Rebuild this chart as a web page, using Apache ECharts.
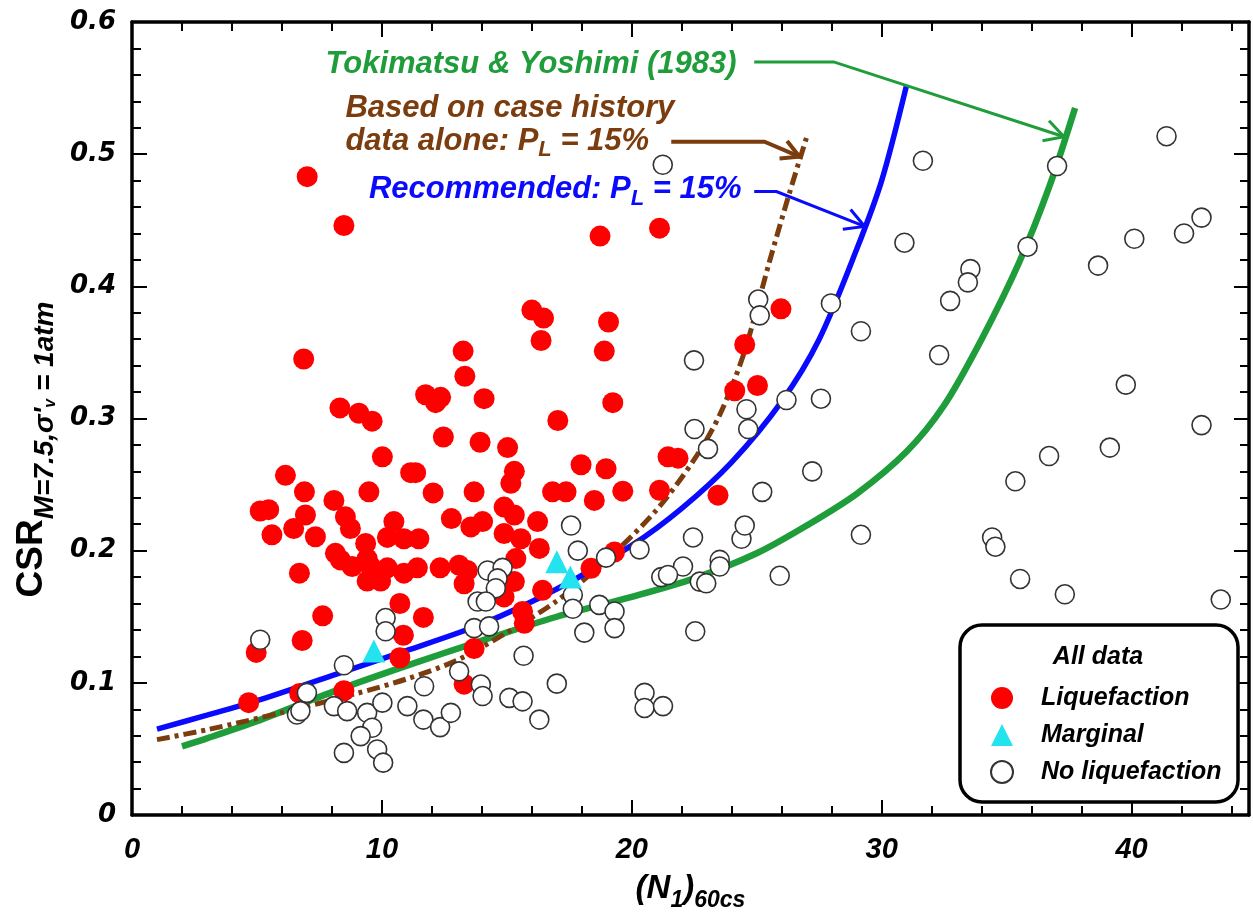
<!DOCTYPE html>
<html><head><meta charset="utf-8">
<script src="https://cdn.jsdelivr.net/npm/echarts@6/dist/echarts.min.js"></script>
<style>html,body{margin:0;padding:0;background:#fff}#c{width:1253px;height:917px}</style>
</head><body><div id="c"></div>
<script>
// ---------- data (N1,60cs , CSR) ----------
const liquefaction = [
 [7.01,0.483],[8.48,0.446],[6.87,0.345],[13.25,0.351],[13.32,0.332],[11.75,0.318],[12.35,0.316],[12.15,0.312],
 [8.32,0.308],[9.08,0.304],[9.61,0.298],[12.46,0.286],[10.02,0.271],[14.09,0.315],[6.14,0.257],[11.15,0.259],
 [11.35,0.259],[6.9,0.2445],[9.48,0.2445],[12.05,0.2437],[13.69,0.2445],[8.08,0.238],[5.13,0.230],[5.47,0.231],
 [6.94,0.227],[8.54,0.2256],[10.48,0.222],[12.78,0.2243],[13.56,0.218],[6.47,0.2168],[5.6,0.212],[7.34,0.2105],
 [8.74,0.2168],[10.22,0.210],[10.88,0.209],[11.48,0.209],[9.35,0.2055],[8.14,0.198],[8.34,0.193],[8.81,0.188],
 [9.41,0.194],[9.55,0.188],[9.41,0.177],[9.95,0.177],[10.22,0.187],[10.88,0.183],[11.42,0.187],[12.33,0.187],
 [13.09,0.189],[13.42,0.185],[13.29,0.175],[6.7,0.183],[10.72,0.160],[11.66,0.1495],[7.63,0.1507],[10.86,0.136],
 [6.81,0.132],[4.97,0.123],[10.72,0.119],[4.67,0.085],[6.71,0.092],[8.48,0.094],[13.69,0.126],[13.29,0.099],
 [21.11,0.444],[18.73,0.438],[16.0,0.382],[16.47,0.376],[16.37,0.359],[19.07,0.373],[18.9,0.351],[19.24,0.312],
 [17.04,0.2985],[13.93,0.282],[15.03,0.278],[24.52,0.356],[24.12,0.321],[21.45,0.271],[21.85,0.270],[17.97,0.265],
 [18.97,0.262],[15.3,0.260],[15.16,0.251],[16.83,0.2445],[17.37,0.2445],[18.5,0.238],[19.64,0.245],[21.11,0.2457],
 [23.45,0.242],[14.89,0.233],[15.3,0.227],[14.03,0.222],[16.23,0.222],[14.89,0.213],[15.56,0.209],[16.3,0.2017],
 [15.36,0.194],[15.3,0.1766],[14.89,0.165],[16.43,0.170],[18.37,0.1867],[19.31,0.199],[15.63,0.154],[15.7,0.145],
 [25.97,0.383],[25.03,0.325]
];
const marginal = [[9.68,0.124],[17.0,0.1917],[17.54,0.180]];
const noLiquefaction = [
 [5.13,0.1326],[10.15,0.149],[10.15,0.139],[8.48,0.1133],[7.0,0.0924],[6.6,0.076],[6.74,0.0786],[8.08,0.0824],
 [8.61,0.0786],[9.41,0.0773],[10.02,0.085],[9.61,0.066],[9.15,0.0597],[8.48,0.047],[9.81,0.0496],[10.05,0.0396],
 [11.02,0.0824],[11.69,0.0974],[11.66,0.0722],[12.33,0.0665],[12.76,0.0773],[13.09,0.1087],
 [17.57,0.219],[17.84,0.200],[18.97,0.1947],[20.31,0.201],[22.45,0.210],[24.39,0.209],[24.52,0.219],[22.05,0.188],
 [21.18,0.180],[21.45,0.1816],[23.52,0.193],[23.52,0.188],[22.72,0.1766],[22.98,0.1753],[14.23,0.185],[14.83,0.187],
 [14.63,0.179],[14.56,0.1716],[13.83,0.1615],[14.16,0.1615],[13.69,0.1414],[14.29,0.1427],[17.64,0.1665],[17.64,0.156],
 [18.7,0.159],[19.31,0.154],[19.31,0.1414],[18.1,0.138],[22.54,0.139],[15.67,0.1205],[17.0,0.0994],[13.96,0.0987],
 [14.03,0.090],[15.1,0.0886],[15.63,0.086],[16.3,0.0722],[20.51,0.0924],[20.51,0.081],[21.25,0.0824],
 [21.24,0.492],[22.49,0.344],[22.51,0.292],[23.05,0.277],
 [31.65,0.495],[30.91,0.433],[33.55,0.413],[33.45,0.403],[32.74,0.389],[32.3,0.348],[27.97,0.387],[29.17,0.366],
 [25.06,0.390],[25.12,0.378],[26.19,0.314],[27.57,0.315],[24.59,0.307],[24.66,0.292],[27.22,0.260],[25.22,0.2445],
 [29.17,0.212],[25.92,0.181],[34.42,0.210],[34.55,0.203],
 [41.4,0.5136],[37.02,0.491],[35.84,0.430],[42.8,0.452],[42.1,0.440],[40.11,0.436],[38.66,0.4157],[39.77,0.3256],
 [42.8,0.295],[39.13,0.278],[36.7,0.2716],[35.35,0.2525],[35.54,0.1786],[37.33,0.167],[43.57,0.163]
];
const recommendedCurve = [
 [1,0.065],[3,0.0755],[5,0.0865],[8,0.1055],[11,0.1245],[14,0.1445],[17,0.171],[20,0.204],
 [22,0.232],[24,0.267],[26,0.313],[27.5,0.36],[29,0.428],[30,0.48],[31,0.5525]
];
const caseHistoryCurve = [
 [1,0.057],[3,0.0645],[6,0.0775],[9,0.092],[11,0.103],[13,0.117],[15,0.138],[17,0.162],
 [19,0.193],[21,0.231],[22.5,0.269],[23.5,0.302],[24.5,0.35],[25.5,0.418],[26.3,0.47],[27,0.513]
];
const tokimatsuCurve = [
 [2,0.052],[3,0.058],[5,0.071],[8,0.093],[11,0.113],[14,0.132],[17,0.15],[20,0.165],
 [22.5,0.179],[25,0.198],[27,0.219],[29,0.243],[31,0.275],[32.5,0.31],[34,0.36],[35.5,0.418],[36.7,0.475],[37.74,0.535]
];
const xMajorTicks = [0,10,20,30,40];
const yTickLabels = ['0','0.1','0.2','0.3','0.4','0.5','0.6'];
// annotation anchors in data units
const annTokimatsu = [7.74,0.568];
const annCase1 = [8.54,0.5346];
const annCase2 = [8.54,0.5097];
const annRecommended = [9.48,0.4732];
const arrowTokimatsu = [[24.9,0.5698],[28.08,0.5698],[37.3,0.5132]];
const arrowCase = [[21.58,0.5094],[25.31,0.5094],[26.71,0.4981]];
const arrowRecommended = [[24.9,0.4717],[25.79,0.4717],[29.32,0.4453]];

// ---------- styles ----------
const XMAX = 44.7;
const FONT = '"Liberation Sans", Arial, sans-serif';
const YFONT = '"DejaVu Sans", "Liberation Sans", sans-serif';
const GREEN = '#1f9d3a', BLUE = '#0a0aff', BROWN = '#7b3c0e', RED = '#ff0000', CYAN = '#22e3ee';

const chart = echarts.init(document.getElementById('c'), null, {renderer: 'canvas'});
const axisLineStyle = {color: '#000', width: 3.5};
function xAx(pos, interval, len, labels, line) {
  return {
    type: 'value', position: pos, min: 0, max: XMAX, interval: interval,
    axisLine: {show: line, onZero: false, lineStyle: axisLineStyle},
    axisTick: {show: true, inside: true, length: len, lineStyle: {color: '#000', width: 2}},
    axisLabel: {show: labels, margin: 20, fontFamily: FONT, fontWeight: 'bold', fontStyle: 'italic', fontSize: 29, color: '#000',
      showMaxLabel: false, formatter: v => xMajorTicks.includes(v) ? String(v) : ''},
    splitLine: {show: false}
  };
}
function yAx(pos, labels) {
  return {
    type: 'value', position: pos, min: 0, max: 0.6, interval: 0.1,
    axisLine: {show: true, onZero: false, lineStyle: axisLineStyle},
    axisTick: {show: true, inside: true, length: 15, lineStyle: {color: '#000', width: 2}},
    minorTick: {show: true, splitNumber: 5, length: 9, lineStyle: {color: '#000', width: 2}},
    axisLabel: {show: labels, margin: 16, fontFamily: YFONT, fontWeight: 'bold', fontStyle: 'italic', fontSize: 26, color: '#000',
      formatter: v => yTickLabels[Math.round(v * 10)]},
    splitLine: {show: false}
  };
}
const xAxes = [xAx('bottom', 10, 15, true, true), xAx('bottom', 2, 9, false, false), xAx('top', 10, 15, false, true), xAx('top', 2, 9, false, false)];
xAxes[0].name = '{a|(N}{s|1}{a|)}{s|60cs}';
xAxes[0].nameLocation = 'middle';
xAxes[0].nameGap = 51;
xAxes[0].nameTextStyle = {rich: {
  a: {fontFamily: FONT, fontWeight: 'bold', fontStyle: 'italic', fontSize: 33, color: '#000', lineHeight: 46, verticalAlign: 'middle'},
  s: {fontFamily: FONT, fontWeight: 'bold', fontStyle: 'italic', fontSize: 23, color: '#000', lineHeight: 22, verticalAlign: 'bottom'}
}};
const yAxes = [yAx('left', true), yAx('right', false)];
yAxes[0].name = '{a|CSR}{s|M=7.5,σ\'}{t|v}{s| = 1atm}';
yAxes[0].nameLocation = 'middle';
yAxes[0].nameRotate = 90;
yAxes[0].nameGap = 58;
yAxes[0].nameTextStyle = {padding: [0, 62, 0, 0], rich: {
  a: {fontFamily: FONT, fontWeight: 'bold', fontSize: 37, color: '#000', lineHeight: 54, verticalAlign: 'middle'},
  s: {fontFamily: FONT, fontWeight: 'bold', fontStyle: 'italic', fontSize: 28, color: '#000', lineHeight: 28, verticalAlign: 'bottom'},
  t: {fontFamily: FONT, fontWeight: 'bold', fontStyle: 'italic', fontSize: 16, color: '#000', lineHeight: 12, verticalAlign: 'bottom'}
}};

const annFont = {fontFamily: FONT, fontWeight: 'bold', fontStyle: 'italic', fontSize: 31};

chart.setOption({
  animation: false,
  backgroundColor: '#fff',
  grid: {left: 132, right: 4, top: 22, bottom: 99.5},
  xAxis: xAxes,
  yAxis: yAxes,
  legend: {
    orient: 'vertical', left: 985, top: 679, itemWidth: 22, itemHeight: 22, itemGap: 9, z: 10,
    selectedMode: false,
    textStyle: {fontFamily: FONT, fontWeight: 'bold', fontStyle: 'italic', fontSize: 25, color: '#000', lineHeight: 28, padding: [0, 0, 0, 23]},
    data: ['Liquefaction', 'Marginal', 'No liquefaction']
  },
  series: [
    {type: 'line', name: 'Tokimatsu & Yoshimi (1983)', data: tokimatsuCurve, showSymbol: false, smooth: 0.3,
     lineStyle: {color: GREEN, width: 6.5}, z: 2},
    {type: 'line', name: 'Based on case history data alone', data: caseHistoryCurve, showSymbol: false, smooth: 0.3,
     lineStyle: {color: BROWN, width: 5, type: [13, 5, 4, 5]}, z: 2},
    {type: 'line', name: 'Recommended', data: recommendedCurve, showSymbol: false, smooth: 0.3,
     lineStyle: {color: BLUE, width: 5.5}, z: 2},
    {type: 'scatter', name: 'Liquefaction', data: liquefaction, symbol: 'circle', symbolSize: 21,
     itemStyle: {color: RED, opacity: 1}, z: 3},
    {type: 'scatter', name: 'No liquefaction', data: noLiquefaction, symbol: 'circle', symbolSize: 19,
     itemStyle: {color: '#fff', borderColor: '#333', borderWidth: 1.6, opacity: 1}, z: 4},
    {type: 'scatter', name: 'Marginal', data: marginal, symbol: 'triangle', symbolSize: 23,
     itemStyle: {color: CYAN, opacity: 1}, z: 5}
  ]
});

// annotations positioned from data coordinates
const px = p => chart.convertToPixel({xAxisIndex: 0, yAxisIndex: 0}, p);
function arrow(id, pts, color, width, head) {
  const P = pts.map(px);
  const tip = P[P.length - 1], prev = P[P.length - 2];
  const a = Math.atan2(tip[1] - prev[1], tip[0] - prev[0]);
  const h1 = [tip[0] - head * Math.cos(a - 0.5), tip[1] - head * Math.sin(a - 0.5)];
  const h2 = [tip[0] - head * Math.cos(a + 0.5), tip[1] - head * Math.sin(a + 0.5)];
  return [
    {type: 'polyline', id: id + 's', z: 20, shape: {points: P}, style: {stroke: color, lineWidth: width, fill: null}},
    {type: 'polyline', id: id + 'h', z: 20, shape: {points: [h1, tip, h2]}, style: {stroke: color, lineWidth: width, fill: null, lineJoin: 'miter'}}
  ];
}
function label(id, pos, text, color) {
  const p = px(pos);
  return {type: 'text', id: id, x: p[0], y: p[1], z: 20, style: {
    text: text, fill: color, verticalAlign: 'middle', align: 'left',
    rich: {a: Object.assign({fill: color, lineHeight: 40, verticalAlign: 'middle'}, annFont),
           s: Object.assign({}, annFont, {fill: color, fontSize: 22, lineHeight: 20, verticalAlign: 'bottom'})}
  }};
}
const graphics = [
  {type: 'rect', id: 'legbox', z: 5, shape: {x: 960, y: 625, width: 278, height: 177, r: 22},
   style: {fill: '#fff', stroke: '#000', lineWidth: 3.5}},
  {type: 'text', id: 'legtitle', z: 11, x: 1098, y: 657, style: {text: 'All data', fill: '#000', align: 'center', verticalAlign: 'middle',
   fontFamily: FONT, fontWeight: 'bold', fontStyle: 'italic', fontSize: 25}},
  label('t1', annTokimatsu, '{a|Tokimatsu & Yoshimi (1983)}', GREEN),
  label('t2', annCase1, '{a|Based on case history}', BROWN),
  label('t3', annCase2, '{a|data alone: P}{s|L}{a| = 15%}', BROWN),
  label('t4', annRecommended, '{a|Recommended: P}{s|L}{a| = 15%}', BLUE)
].concat(arrow('aG', arrowTokimatsu, GREEN, 3, 22), arrow('aB', arrowCase, BROWN, 4, 20), arrow('aR', arrowRecommended, BLUE, 3, 22));
chart.setOption({graphic: graphics});
</script>
</body></html>
